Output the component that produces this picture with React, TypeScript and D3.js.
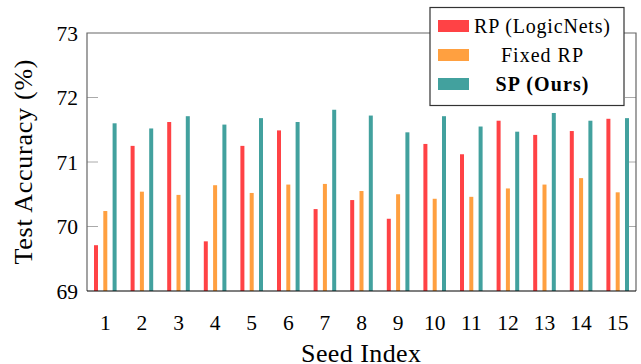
import React from "react";
import * as d3 from "d3";

const seeds = [1, 2, 3, 4, 5, 6, 7, 8, 9, 10, 11, 12, 13, 14, 15];
const rpLogicNets = [69.71, 71.25, 71.62, 69.77, 71.25, 71.49, 70.27, 70.41, 70.12, 71.28, 71.12, 71.64, 71.42, 71.48, 71.67];
const fixedRP = [70.24, 70.54, 70.49, 70.64, 70.52, 70.65, 70.66, 70.55, 70.5, 70.43, 70.46, 70.59, 70.65, 70.75, 70.53];
const spOurs = [71.6, 71.52, 71.71, 71.58, 71.68, 71.62, 71.81, 71.72, 71.46, 71.71, 71.55, 71.47, 71.76, 71.64, 71.68];
const yTicks = [69, 70, 71, 72, 73];
const seriesNames = ["RP (LogicNets)", "Fixed RP", "SP (Ours)"];
const seriesColors = ["#ff4245", "#ffa040", "#42a19e"];
const seriesData = [rpLogicNets, fixedRP, spOurs];

const W = 641;
const H = 364;
const left = 87, right = 636, top = 33, bottom = 291;
const FONT = "'Liberation Serif', 'Times New Roman', serif";

export default function App() {
  const x = d3.scaleLinear().domain([0.5, 15.5]).range([left, right]);
  const y = d3.scaleLinear().domain([69, 73]).range([bottom, top]);
  const offsets = [-9.3, 0, 9.3];
  const bw = 4;
  const legendTextWidths = [136, 82, 93];

  return (
    <svg width={W} height={H} style={{ position: "absolute", left: 0, top: 0 }} fontFamily={FONT}>
      <rect x={0} y={0} width={W} height={H} fill="#fff" />
      {yTicks.slice(1, -1).map((t) => (
        <g key={"t" + t}>
          <line x1={left} x2={left + 11} y1={y(t)} y2={y(t)} stroke="#aaa" strokeWidth={1} />
          <line x1={right - 11} x2={right} y1={y(t)} y2={y(t)} stroke="#aaa" strokeWidth={1} />
        </g>
      ))}
      {seriesData.map((arr, si) =>
        arr.map((v, i) => (
          <rect
            key={si + "-" + i}
            x={x(seeds[i]) + offsets[si] - bw / 2}
            y={y(v)}
            width={bw}
            height={y(69) - y(v)}
            fill={seriesColors[si]}
          />
        ))
      )}
      <path d={`M${left},${bottom} V${top} H${right} V${bottom}`} fill="none" stroke="#666" strokeWidth={1.2} />
      <line x1={left} x2={right} y1={bottom} y2={bottom} stroke="#000" strokeWidth={1.2} />
      {yTicks.map((t) => (
        <text key={"yl" + t} x={78} y={y(t) + 7.5} textAnchor="end" fontSize={21.5} fill="#000">
          {t}
        </text>
      ))}
      {seeds.map((s) => (
        <text key={"xl" + s} x={x(s)} y={330} textAnchor="middle" fontSize={21.5} fill="#000">
          {s}
        </text>
      ))}
      <text x={361} y={361.5} textAnchor="middle" fontSize={26} textLength={120} lengthAdjust="spacing">
        Seed Index
      </text>
      <text
        transform={`translate(32,${(top + bottom) / 2}) rotate(-90)`}
        textAnchor="middle"
        fontSize={26}
        textLength={205}
        lengthAdjust="spacing"
      >
        Test Accuracy (%)
      </text>
      <rect x={430} y={7.5} width={194} height={98} fill="#fff" stroke="#333" strokeWidth={1.2} />
      {seriesNames.map((n, i) => (
        <g key={"lg" + i}>
          <rect x={438} y={26 + i * 29 - 6} width={31} height={12} fill={seriesColors[i]} />
          <text
            x={542}
            y={26 + i * 29 + 6.5}
            textAnchor="middle"
            fontSize={20}
            fontWeight={i === 2 ? "bold" : "normal"}
            textLength={legendTextWidths[i]}
            lengthAdjust="spacing"
          >
            {n}
          </text>
        </g>
      ))}
    </svg>
  );
}
